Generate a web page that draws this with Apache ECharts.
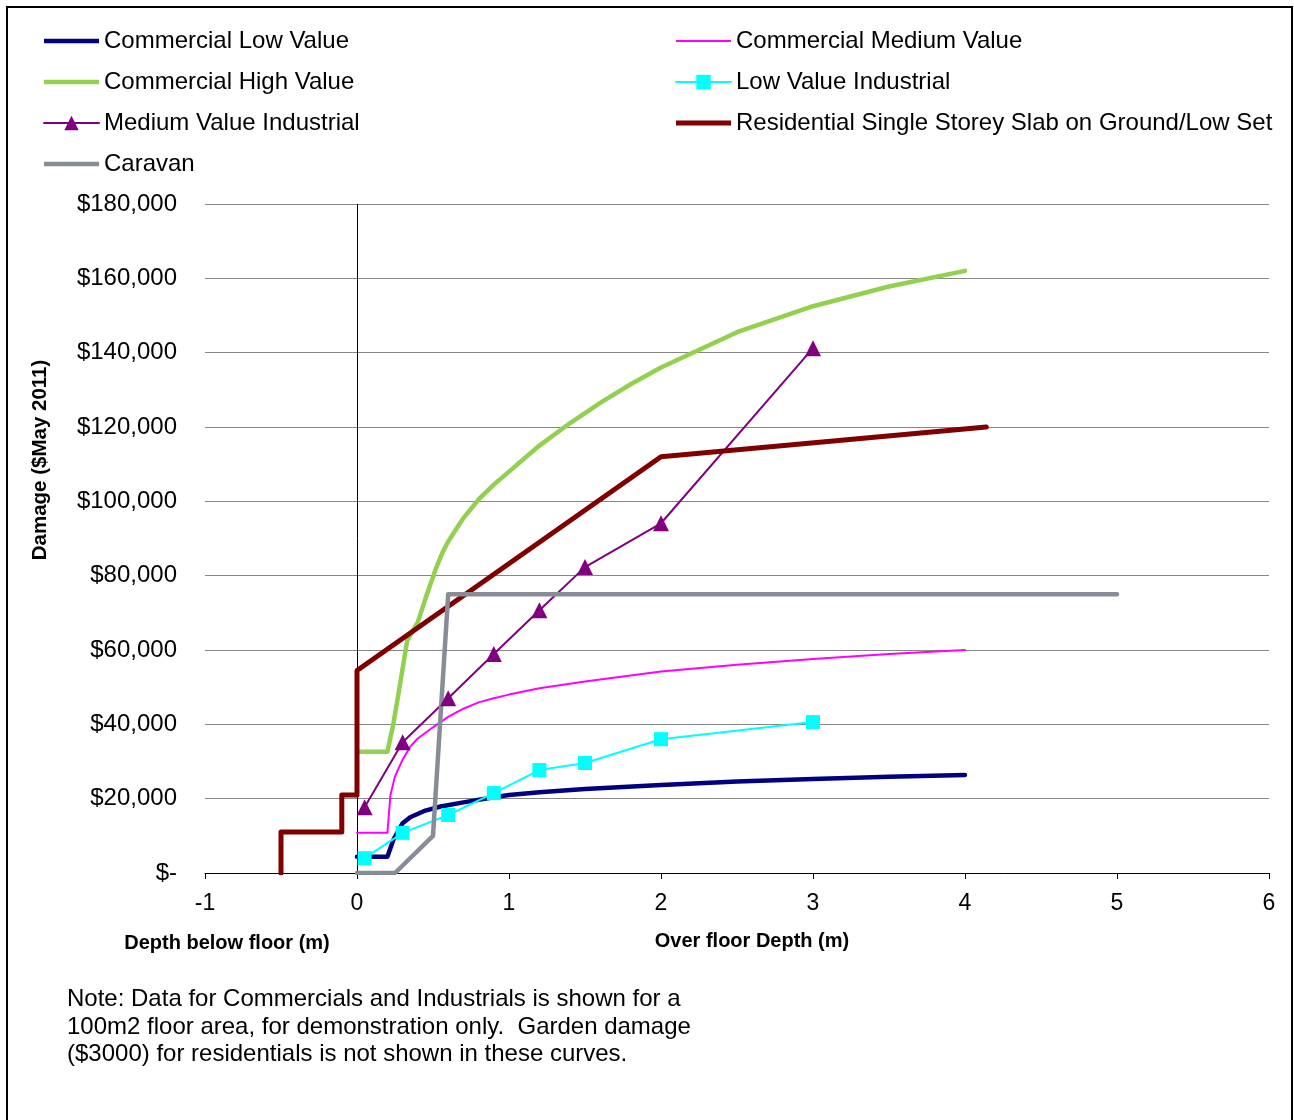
<!DOCTYPE html>
<html>
<head>
<meta charset="utf-8">
<script src="https://cdn.jsdelivr.net/npm/echarts@6/dist/echarts.min.js"></script>
<style>
  html, body { margin: 0; padding: 0; background: #fff; }
  #chart { width: 1294px; height: 1120px; }
</style>
</head>
<body>
<div id="chart"></div>
<script>
// Stage-damage curves: depth (m) vs damage ($May 2011)
const seriesNames = [
  'Commercial Low Value',
  'Commercial Medium Value',
  'Commercial High Value',
  'Low Value Industrial',
  'Medium Value Industrial',
  'Residential Single Storey Slab on Ground/Low Set',
  'Caravan'
];

const commercialLow = [
  [0, 4400], [0.2, 4400], [0.24, 9000], [0.3, 13400], [0.35, 15000], [0.45, 16800],
  [0.55, 17900], [0.7, 19000], [0.9, 20400], [1.0, 21000], [1.2, 21700], [1.5, 22600],
  [2.0, 23700], [2.5, 24600], [3.0, 25300], [3.5, 25900], [4.0, 26400]
];

const commercialMedium = [
  [0, 10800], [0.2, 10800], [0.22, 21000], [0.25, 26000], [0.3, 30500], [0.35, 34000],
  [0.4, 36200], [0.5, 39200], [0.6, 42000], [0.7, 44200], [0.8, 45900], [0.9, 47000],
  [1.0, 48000], [1.2, 49700], [1.5, 51500], [2.0, 54200], [2.5, 56000], [3.0, 57600],
  [3.5, 58900], [4.0, 60000]
];

const commercialHigh = [
  [0, 32600], [0.2, 32600], [0.24, 40300], [0.27, 47500], [0.3, 55000], [0.33, 62500],
  [0.4, 67500], [0.46, 75000], [0.52, 82000], [0.56, 86000], [0.6, 89200], [0.7, 95500],
  [0.8, 100500], [0.9, 104500], [1.0, 108000], [1.2, 115000], [1.4, 121000], [1.6, 126500],
  [1.8, 131500], [2.0, 136000], [2.5, 145500], [3.0, 152500], [3.5, 157800], [4.0, 162000]
];

const lowValueIndustrial = [
  [0.05, 4000], [0.3, 10800], [0.6, 15600], [0.9, 21500], [1.2, 27700], [1.5, 29600],
  [2.0, 36000], [3.0, 40600]
];

const mediumValueIndustrial = [
  [0.05, 17700], [0.3, 35200], [0.6, 47000], [0.9, 58900], [1.2, 70700], [1.5, 82300],
  [2.0, 94100], [3.0, 141200]
];

const residential = [
  [-0.5, 0], [-0.5, 11000], [-0.1, 11000], [-0.1, 21000], [0, 21000], [0, 54500],
  [2.0, 112000], [4.14, 120000]
];

const caravan = [
  [0, 0], [0.25, 0], [0.5, 10000], [0.6, 75000], [5.0, 75000]
];

const xTicks = { min: -1, max: 6, step: 1 };
const yTicks = { min: 0, max: 180000, step: 20000 };

const noteLines = [
  'Note: Data for Commercials and Industrials is shown for a',
  '100m2 floor area, for demonstration only.  Garden damage',
  '($3000) for residentials is not shown in these curves.'
];

const FONT = "'Liberation Sans', Arial, Helvetica, sans-serif";

function money(v) {
  if (v === 0) return '$-';
  return '$' + v.toLocaleString('en-US');
}

// plain bar-shaped legend icon of a given stroke thickness
function barIcon(thickness) {
  return 'path://M0,0L55,0L55,' + thickness + 'L0,' + thickness + 'Z';
}

const chart = echarts.init(document.getElementById('chart'), null, { renderer: 'canvas' });

function lineSeries(name, data, color, width, extra) {
  return Object.assign({
    name: name,
    type: 'line',
    data: data,
    showSymbol: false,
    symbol: 'none',
    lineStyle: { color: color, width: width, cap: 'round', join: 'round' },
    itemStyle: { color: color },
    z: 3
  }, extra || {});
}

const legendText = { fontSize: 24, color: '#000', fontFamily: FONT, lineHeight: 24 };

const option = {
  animation: false,
  backgroundColor: '#fff',
  textStyle: { fontFamily: FONT },
  grid: { left: 205, right: 25, top: 204, bottom: 247, containLabel: false },
  legend: [
    {
      data: [
        { name: seriesNames[0], icon: barIcon(4.5) },
        { name: seriesNames[2], icon: barIcon(4.5) },
        { name: seriesNames[4] },
        { name: seriesNames[6], icon: barIcon(4.5) }
      ],
      orient: 'vertical', left: 43, top: 29, padding: 0,
      itemWidth: 55, itemHeight: 18, itemGap: 17, symbolKeepAspect: true,
      textStyle: legendText
    },
    {
      data: [
        { name: seriesNames[1], icon: barIcon(2) },
        { name: seriesNames[3] },
        { name: seriesNames[5], icon: barIcon(5) }
      ],
      orient: 'vertical', left: 675, top: 29, padding: 0,
      itemWidth: 55, itemHeight: 18, itemGap: 17, symbolKeepAspect: true,
      textStyle: legendText
    }
  ],
  xAxis: {
    type: 'value',
    min: xTicks.min, max: xTicks.max, interval: xTicks.step,
    axisLine: { lineStyle: { color: '#000', width: 1 } },
    axisTick: { show: true, length: 6, lineStyle: { color: '#000' } },
    splitLine: { show: false },
    axisLabel: { fontSize: 23, color: '#000', margin: 19, fontFamily: FONT }
  },
  yAxis: {
    type: 'value',
    min: yTicks.min, max: yTicks.max, interval: yTicks.step,
    axisLine: { show: false },
    axisTick: { show: false },
    splitLine: { lineStyle: { color: '#868686', width: 1 } },
    axisLabel: { fontSize: 24, color: '#000', margin: 28, fontFamily: FONT, formatter: money }
  },
  graphic: [
    {
      type: 'rect', silent: true,
      shape: { x: 7, y: 7, width: 1285, height: 1130 },
      style: { fill: 'none', stroke: '#000', lineWidth: 2 }
    },
    {
      type: 'text', x: 40, y: 460, rotation: Math.PI / 2,
      style: {
        text: 'Damage ($May 2011)', font: 'bold 20.5px ' + FONT, fill: '#000',
        textAlign: 'center', textVerticalAlign: 'middle', align: 'center', verticalAlign: 'middle'
      }
    },
    {
      type: 'text', x: 227, y: 943,
      style: {
        text: 'Depth below floor (m)', font: 'bold 20px ' + FONT, fill: '#000',
        textAlign: 'center', textVerticalAlign: 'middle', align: 'center', verticalAlign: 'middle'
      }
    },
    {
      type: 'text', x: 752, y: 941,
      style: {
        text: 'Over floor Depth (m)', font: 'bold 20px ' + FONT, fill: '#000',
        textAlign: 'center', textVerticalAlign: 'middle', align: 'center', verticalAlign: 'middle'
      }
    },
    {
      type: 'text', x: 67, y: 986,
      style: {
        text: noteLines.join('\n'), font: '24px ' + FONT, fill: '#000', lineHeight: 27.5,
        textAlign: 'left', textVerticalAlign: 'top', align: 'left', verticalAlign: 'top'
      }
    }
  ],
  series: [
    lineSeries(seriesNames[0], commercialLow, '#000080', 4.5, {
      markLine: {
        silent: true, symbol: 'none', label: { show: false },
        lineStyle: { color: '#000', width: 1, type: 'solid' },
        data: [[{ coord: [0, yTicks.min] }, { coord: [0, yTicks.max] }]],
        z: 1
      }
    }),
    lineSeries(seriesNames[1], commercialMedium, '#FF00FF', 2),
    lineSeries(seriesNames[2], commercialHigh, '#92D050', 4.5),
    lineSeries(seriesNames[3], lowValueIndustrial, '#00FFFF', 2, {
      showSymbol: true, symbol: 'rect', symbolSize: 14
    }),
    lineSeries(seriesNames[4], mediumValueIndustrial, '#800080', 2, {
      showSymbol: true, symbol: 'triangle', symbolSize: 16
    }),
    lineSeries(seriesNames[5], residential, '#800000', 5),
    lineSeries(seriesNames[6], caravan, '#878C96', 4.5)
  ]
};

chart.setOption(option);
</script>
</body>
</html>
